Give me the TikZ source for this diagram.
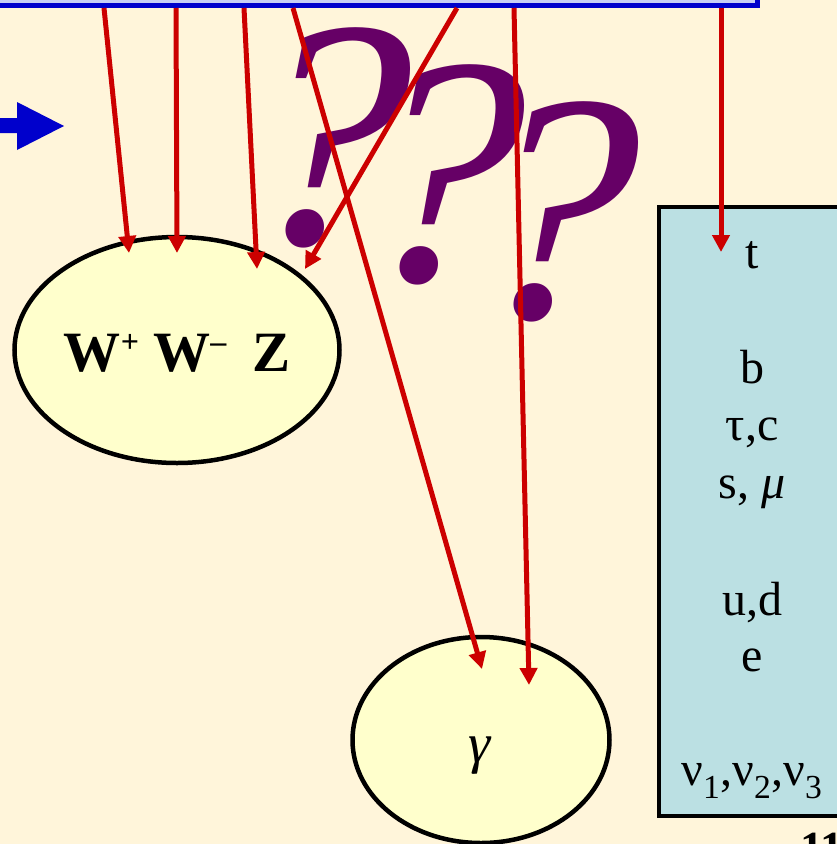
\documentclass[tikz,border=0pt]{standalone}
\usepackage{fontspec}
\setmainfont{Liberation Serif}
\usetikzlibrary{arrows.meta,shapes.geometric}
\definecolor{cream}{RGB}{255,245,218}
\definecolor{paleyellow}{RGB}{255,255,204}
\definecolor{paleblue}{RGB}{187,224,227}
\definecolor{barblue}{RGB}{0,0,204}
\definecolor{barfill}{RGB}{200,206,245}
\definecolor{deepred}{RGB}{204,0,0}
\definecolor{plum}{RGB}{102,0,102}
\newcommand{\supsign}[1]{\raisebox{19pt}{\fontsize{32}{32}\selectfont #1}}

\begin{document}
\begin{tikzpicture}[x=1pt,y=-1pt,
  every node/.style={font=\fontsize{48}{50}\selectfont,align=center,inner sep=0pt},
  boson/.style={ellipse,draw,line width=4.5pt,fill=paleyellow,inner sep=0pt},
  redarrow/.style={deepred,line width=5pt,-{Triangle[length=17pt,width=17pt]}},
  qmark/.style={plum,anchor=base,transform shape,font=\fontsize{326}{326}\selectfont\itshape}]
\clip (0,0) rectangle (837,844);
\fill[cream] (0,0) rectangle (837,844);
% top bar and blue arrow
\draw[barblue,line width=5pt,fill=barfill] (-20,-60) rectangle (757,5.5);
\fill[barblue] (-5,118) -- (17,118) -- (17,102) -- (64,126) -- (17,150) -- (17,133) -- (-5,133) -- cycle;
% question marks
\foreach \qx/\qy [count=\n] in {318/243,432/280,546/317}
{
  \begin{scope}[shift={(\qx,\qy)},xslant=0.08]
    \node[qmark] (q\n) at (0,0) {?};
  \end{scope}
}
% bosons
\node[boson,minimum width=325pt,minimum height=226pt] (wwz) at (177,350) {};
\node[anchor=base] (wwzlab) at (177,371)
  {\fontsize{57}{60}\selectfont\bfseries W\supsign{+} W\supsign{–}\hspace{0.45em}Z};
\node[boson,minimum width=257pt,minimum height=206pt] (gam) at (481,740) {};
\node[anchor=base] (gamlab) at (480,762) {\fontsize{56}{60}\selectfont\itshape γ};
% fermions
\node[draw,line width=3.5pt,fill=paleblue,minimum width=203pt,minimum height=609pt,anchor=north west] (ferm) at (657,205) {};
\node[anchor=base] (ft) at (752,268) {t};
\node[anchor=base] (fb) at (752,383) {b};
\node[anchor=base] (ftau) at (752,440) {τ,c};
\node[anchor=base] (fs) at (752,498) {s, \textit{μ}};
\node[anchor=base] (fu) at (752,615) {u,d};
\node[anchor=base] (fe) at (752,671) {e};
\node[anchor=base] (fnu) at (752,785) {ν\textsubscript{1},ν\textsubscript{2},ν\textsubscript{3}};
\node[anchor=north west,font=\fontsize{46}{48}\selectfont\bfseries] (pagenum) at (800,833) {11};
% arrows from the bar
\coordinate (s1) at (104,8);  \coordinate (e1) at (129,253);
\coordinate (s2) at (176,8);  \coordinate (e2) at (177,253);
\coordinate (s3) at (244,8);  \coordinate (e3) at (257,269);
\coordinate (s4) at (293,8);  \coordinate (e4) at (482,669);
\coordinate (s5) at (457,8);  \coordinate (e5) at (305,269);
\coordinate (s6) at (514,8);  \coordinate (e6) at (529,685);
\coordinate (s7) at (721,8);  \coordinate (e7) at (721,252);
\foreach \i in {1,...,7}
  \draw[redarrow] (s\i) -- (e\i);
\end{tikzpicture}
\end{document}
